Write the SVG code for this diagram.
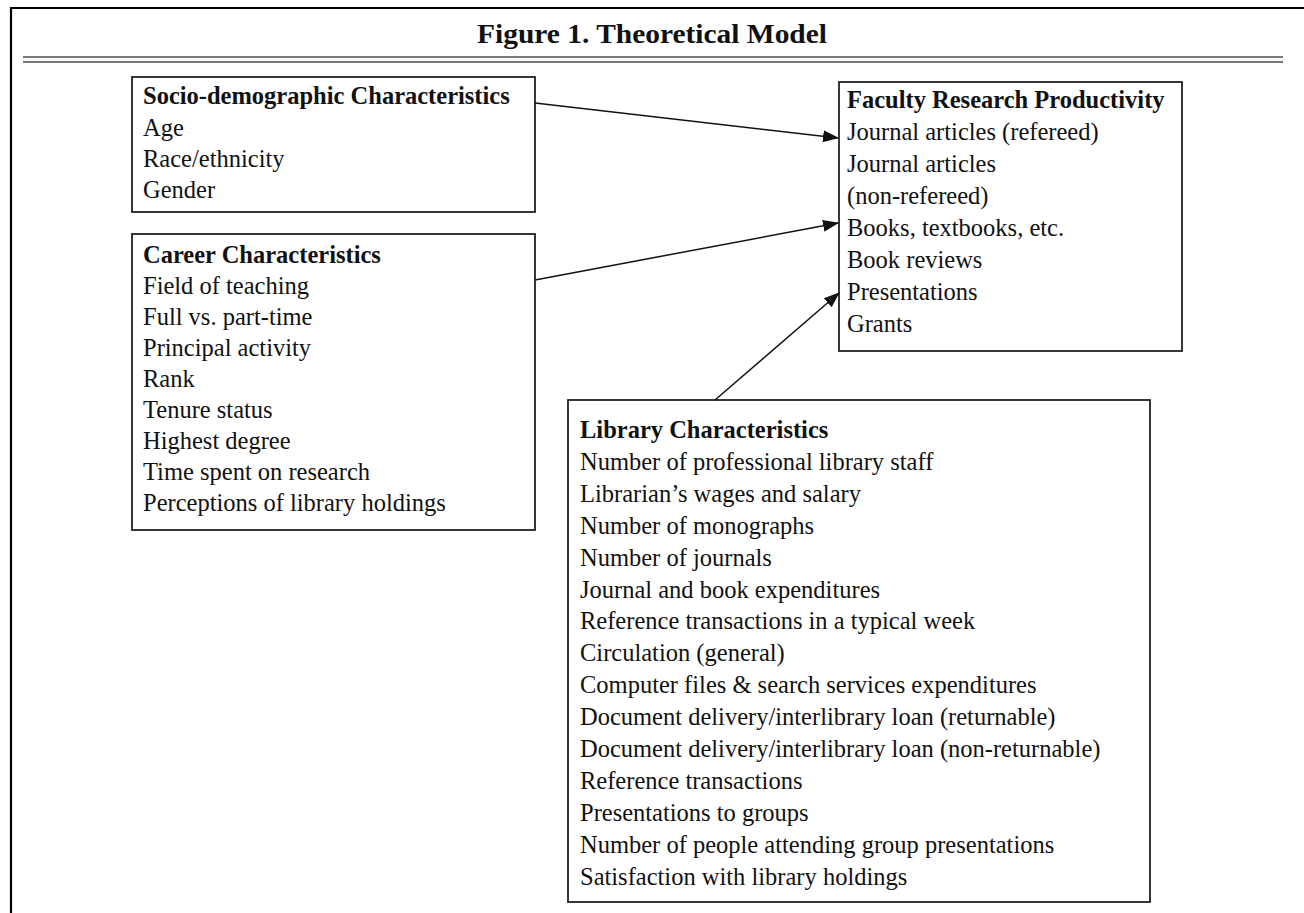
<svg xmlns="http://www.w3.org/2000/svg" width="1304" height="913" viewBox="0 0 1304 913">
<defs>
<style>
.t{font-family:"Liberation Serif","Times New Roman",serif;font-size:24.5px;fill:#111}
.b{font-weight:bold}
.box{fill:#fff;stroke:#222;stroke-width:1.8}
.c{stroke:#111;stroke-width:1.5;fill:none;marker-end:url(#ah)}
.rule{stroke:#7a7a7a;stroke-width:2.2}
</style>
<marker id="ah" markerWidth="16" markerHeight="12" refX="15" refY="6" orient="auto" markerUnits="userSpaceOnUse">
<path d="M0,0 L16,6 L0,12 Z" fill="#111"/>
</marker>
</defs>
<rect width="1304" height="913" fill="#fff"/>
<g id="frame">
<path d="M11,913 V8 H1304" fill="none" stroke="#000" stroke-width="2.2"/>
<line class="rule" x1="23" y1="57" x2="1283" y2="57"/>
<line class="rule" x1="23" y1="62" x2="1283" y2="62"/>
<text x="652" y="43" text-anchor="middle" class="t b" style="font-size:27px" textLength="350" lengthAdjust="spacingAndGlyphs">Figure 1. Theoretical Model</text>
</g>
<g id="socio">
<rect class="box" x="132" y="77" width="403" height="135"/>
<text class="t b" x="143" y="104">Socio-demographic Characteristics</text>
<text class="t" x="143" y="136">Age</text>
<text class="t" x="143" y="167">Race/ethnicity</text>
<text class="t" x="143" y="198">Gender</text>
</g>
<g id="career">
<rect class="box" x="132" y="234" width="403" height="296"/>
<text class="t b" x="143" y="263">Career Characteristics</text>
<text class="t" x="143" y="294">Field of teaching</text>
<text class="t" x="143" y="325">Full vs. part-time</text>
<text class="t" x="143" y="356">Principal activity</text>
<text class="t" x="143" y="387">Rank</text>
<text class="t" x="143" y="418">Tenure status</text>
<text class="t" x="143" y="449">Highest degree</text>
<text class="t" x="143" y="480">Time spent on research</text>
<text class="t" x="143" y="511">Perceptions of library holdings</text>
</g>
<g id="faculty">
<rect class="box" x="839" y="82" width="343" height="269"/>
<text class="t b" x="847" y="108">Faculty Research Productivity</text>
<text class="t" x="847" y="140">Journal articles (refereed)</text>
<text class="t" x="847" y="172">Journal articles</text>
<text class="t" x="847" y="204">(non-refereed)</text>
<text class="t" x="847" y="236">Books, textbooks, etc.</text>
<text class="t" x="847" y="268">Book reviews</text>
<text class="t" x="847" y="300">Presentations</text>
<text class="t" x="847" y="332">Grants</text>
</g>
<g id="library">
<rect class="box" x="568" y="400" width="582" height="502"/>
<text class="t b" x="580" y="438">Library Characteristics</text>
<text class="t" x="580" y="470">Number of professional library staff</text>
<text class="t" x="580" y="502">Librarian’s wages and salary</text>
<text class="t" x="580" y="534">Number of monographs</text>
<text class="t" x="580" y="566">Number of journals</text>
<text class="t" x="580" y="598">Journal and book expenditures</text>
<text class="t" x="580" y="629">Reference transactions in a typical week</text>
<text class="t" x="580" y="661">Circulation (general)</text>
<text class="t" x="580" y="693">Computer files &amp; search services expenditures</text>
<text class="t" x="580" y="725">Document delivery/interlibrary loan (returnable)</text>
<text class="t" x="580" y="757">Document delivery/interlibrary loan (non-returnable)</text>
<text class="t" x="580" y="789">Reference transactions</text>
<text class="t" x="580" y="821">Presentations to groups</text>
<text class="t" x="580" y="853">Number of people attending group presentations</text>
<text class="t" x="580" y="885">Satisfaction with library holdings</text>
</g>
<g id="connectors">
<line class="c" x1="535" y1="103" x2="838" y2="138"/>
<line class="c" x1="535" y1="280" x2="838" y2="223"/>
<line class="c" x1="715" y1="400" x2="839" y2="293"/>
</g>
</svg>
